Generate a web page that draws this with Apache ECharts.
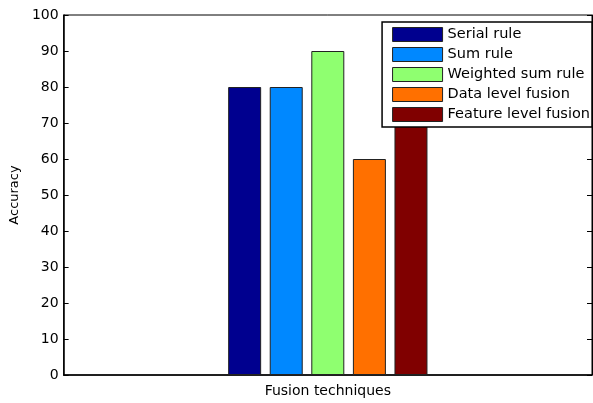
<!DOCTYPE html>
<html>
<head>
<meta charset="utf-8">
<script src="https://cdn.jsdelivr.net/npm/echarts@6/dist/echarts.min.js"></script>
<style>
html,body{margin:0;padding:0;background:#fff;}
#chart{width:593px;height:403px;}
</style>
</head>
<body>
<div id="chart"></div>
<script>
var categories = [''];
var seriesNames = ['Serial rule', 'Sum rule', 'Weighted sum rule', 'Data level fusion', 'Feature level fusion'];
var seriesValues = [80, 80, 90, 60, 80];
var seriesColors = ['#00008F', '#0088FF', '#8FFF70', '#FF7000', '#800000'];
var yTicks = [0, 10, 20, 30, 40, 50, 60, 70, 80, 90, 100];

var font = 'DejaVu Sans';
var chart = echarts.init(document.getElementById('chart'), null, {renderer: 'canvas'});

var series = seriesNames.map(function (n, i) {
  return {
    name: n,
    type: 'bar',
    data: [seriesValues[i]],
    barWidth: 33,
    barGap: '26%',
    itemStyle: {color: seriesColors[i], borderColor: '#222', borderWidth: 1},
    z: 2
  };
});

chart.setOption({
  animation: false,
  backgroundColor: '#fff',
  textStyle: {fontFamily: font},
  grid: {left: 62, right: 1, top: 15, bottom: 24, show: true, borderColor: '#000', borderWidth: 1, backgroundColor: 'transparent'},
  legend: {
    orient: 'vertical',
    right: 1,
    top: 22,
    itemWidth: 50,
    itemHeight: 14,
    itemGap: 5,
    padding: [5, 2, 5, 10],
    backgroundColor: '#fff',
    borderColor: '#000',
    borderWidth: 1.5,
    icon: 'rect',
    itemStyle: {borderColor: '#222', borderWidth: 1},
    textStyle: {fontFamily: font, fontSize: 14.5, color: '#000'},
    data: seriesNames,
    z: 10
  },
  xAxis: [{
    type: 'category',
    data: categories,
    position: 'bottom',
    axisLine: {show: true, lineStyle: {color: '#000', width: 1.5}},
    axisTick: {show: false},
    axisLabel: {show: false},
    splitLine: {show: false},
    name: 'Fusion techniques',
    nameLocation: 'middle',
    nameGap: 9,
    nameTextStyle: {fontFamily: font, fontSize: 14, color: '#000'}
  }],
  yAxis: [{
    type: 'value',
    min: 0,
    max: 100,
    interval: 10,
    position: 'left',
    axisLine: {show: true, lineStyle: {color: '#000', width: 1.5}},
    axisTick: {show: true, inside: true, length: 5, lineStyle: {color: '#000'}},
    axisLabel: {fontFamily: font, fontSize: 14, color: '#000', margin: 5,
      formatter: function (v) { return yTicks.indexOf(v) >= 0 ? String(v) : ''; }},
    splitLine: {show: false},
    name: 'Accuracy',
    nameLocation: 'middle',
    nameGap: 40,
    nameTextStyle: {fontFamily: font, fontSize: 13, color: '#000'}
  }, {
    type: 'value',
    min: 0,
    max: 100,
    interval: 10,
    position: 'right',
    axisLine: {show: true, lineStyle: {color: '#000', width: 1}},
    axisTick: {show: true, inside: true, length: 5, lineStyle: {color: '#000'}},
    axisLabel: {show: false},
    splitLine: {show: false}
  }],
  series: series
});
</script>
</body>
</html>
